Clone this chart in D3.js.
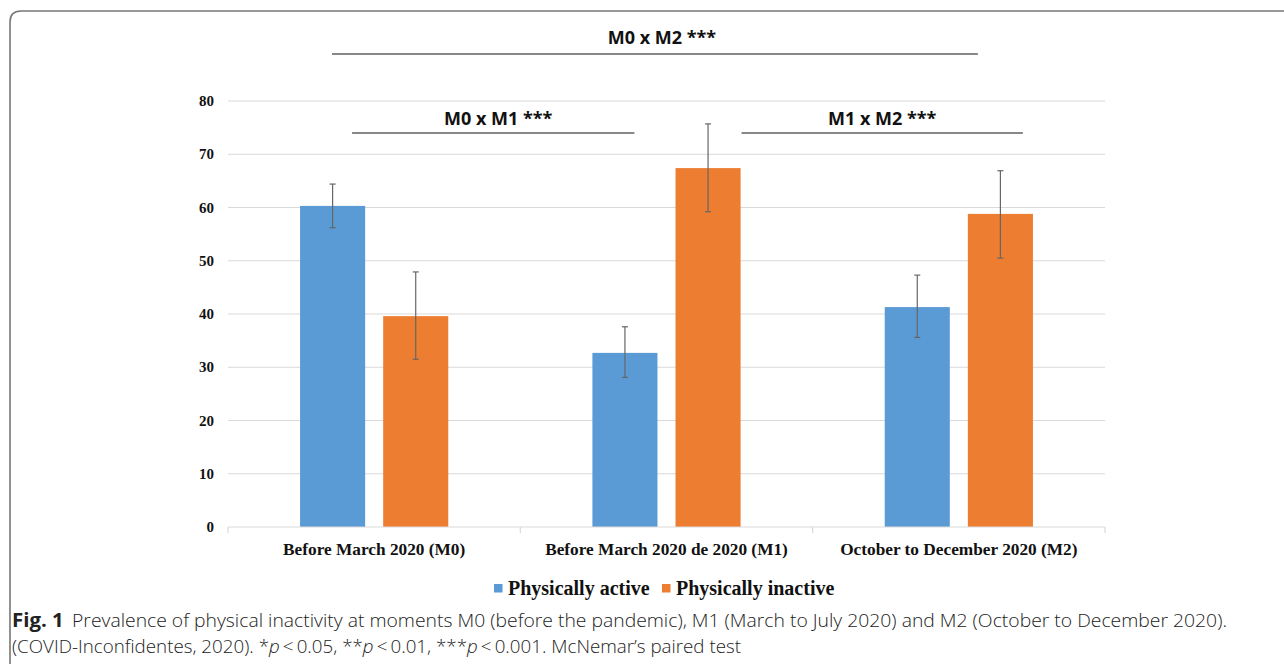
<!DOCTYPE html>
<html><head><meta charset="utf-8">
<script src="https://cdn.jsdelivr.net/npm/d3@7"></script>
<style>body{margin:0;background:#fff;} svg{display:block;}</style>
</head><body>
<svg id="chart" width="1284" height="666"></svg>
<script>
const categories = ["Before March 2020 (M0)", "Before March 2020 de 2020 (M1)", "October to December 2020 (M2)"];
const seriesNames = ["Physically active", "Physically inactive"];
const activeValues = [60.3, 32.7, 41.3];
const inactiveValues = [39.6, 67.4, 58.8];
const activeLow = [56.2, 28.1, 35.6];
const activeHigh = [64.4, 37.6, 47.3];
const inactiveLow = [31.5, 59.2, 50.5];
const inactiveHigh = [47.9, 75.7, 66.9];
const yTicks = [0, 10, 20, 30, 40, 50, 60, 70, 80];
const comparisons = [
  {label: "M0 x M2 ***", from: 0, to: 2, level: 2},
  {label: "M0 x M1 ***", from: 0, to: 1, level: 1},
  {label: "M1 x M2 ***", from: 1, to: 2, level: 1}
];
const captionBold = "Fig. 1";
const captionLine1 = "Prevalence of physical inactivity at moments M0 (before the pandemic), M1 (March to July 2020) and M2 (October to December 2020).";
const captionLine2 = "(COVID-Inconfidentes, 2020). *p\u2009<\u20090.05, **p\u2009<\u20090.01, ***p\u2009<\u20090.001. McNemar\u2019s paired test";

const colors = ["#5b9bd5", "#ed7d31"];
const svg = d3.select("#chart");

// frame
svg.append("path")
  .attr("d", "M10,664 L10,22 Q10,11 21,11 L1290,11")
  .attr("fill", "none").attr("stroke", "#777").attr("stroke-width", 1.6);

const pLeft = 228, pRight = 1105, pTop = 101, pBottom = 527;
const x = d3.scaleBand().domain(categories).range([pLeft, pRight]).paddingInner(0).paddingOuter(0);
const y = d3.scaleLinear().domain([0, 80]).range([pBottom, pTop]);

// gridlines
svg.append("g").selectAll("line").data(yTicks.filter(d => d > 0)).join("line")
  .attr("x1", pLeft).attr("x2", pRight)
  .attr("y1", d => y(d)).attr("y2", d => y(d))
  .attr("stroke", "#d9d9d9").attr("stroke-width", 1.2);

// y labels
svg.append("g").selectAll("text").data(yTicks).join("text")
  .attr("x", 214).attr("y", d => y(d) + 5)
  .attr("text-anchor", "end")
  .attr("font-family", "Liberation Serif, Times New Roman, serif")
  .attr("font-weight", "bold").attr("font-size", 15).attr("fill", "#111")
  .text(d => d);

// bars
const inner = d3.scaleBand().domain(seriesNames).range([0, x.bandwidth()]).paddingInner(0.217).paddingOuter(0.867);
const data = categories.map((c, i) => [
  {cat: c, s: seriesNames[0], v: activeValues[i], lo: activeLow[i], hi: activeHigh[i], col: colors[0]},
  {cat: c, s: seriesNames[1], v: inactiveValues[i], lo: inactiveLow[i], hi: inactiveHigh[i], col: colors[1]}
]).flat();

svg.append("g").selectAll("rect").data(data).join("rect")
  .attr("x", d => x(d.cat) + inner(d.s))
  .attr("width", inner.bandwidth())
  .attr("y", d => y(d.v))
  .attr("height", d => y(0) - y(d.v))
  .attr("fill", d => d.col);

// axis baseline
const axisG = svg.append("g");
axisG.append("line").attr("x1", pLeft).attr("x2", pRight).attr("y1", pBottom).attr("y2", pBottom)
  .attr("stroke", "#d9d9d9").attr("stroke-width", 1.2);
const bounds = categories.map(c => x(c)).concat([pRight]);
axisG.selectAll("line.tk").data(bounds).join("line").attr("class", "tk")
  .attr("x1", d => d).attr("x2", d => d).attr("y1", pBottom).attr("y2", pBottom + 6)
  .attr("stroke", "#d9d9d9").attr("stroke-width", 1.2);

// error bars
const eb = svg.append("g").attr("stroke", "#666").attr("stroke-width", 1.2);
data.forEach(d => {
  const cx = x(d.cat) + inner(d.s) + inner.bandwidth() / 2;
  eb.append("line").attr("x1", cx).attr("x2", cx).attr("y1", y(d.hi)).attr("y2", y(d.lo));
  eb.append("line").attr("x1", cx - 3).attr("x2", cx + 3).attr("y1", y(d.hi)).attr("y2", y(d.hi));
  eb.append("line").attr("x1", cx - 3).attr("x2", cx + 3).attr("y1", y(d.lo)).attr("y2", y(d.lo));
});

// x labels
svg.append("g").selectAll("text").data(categories).join("text")
  .attr("x", d => x(d) + x.bandwidth() / 2).attr("y", 555)
  .attr("text-anchor", "middle")
  .attr("font-family", "Liberation Serif, Times New Roman, serif")
  .attr("font-weight", "bold").attr("font-size", 17.3).attr("fill", "#111")
  .text(d => d);

// significance brackets
const compGeom = {
  2: {y: 54, ty: 44},
  1: {y: 133, ty: 125}
};
comparisons.forEach(c => {
  const g = compGeom[c.level];
  let x1, x2, dx;
  if (c.level === 2) {
    x1 = x(categories[c.from]) + inner(seriesNames[0]) + 32;
    x2 = x(categories[c.to]) + inner(seriesNames[1]) + 10;
    dx = 7;
  } else if (c.from === 0) {
    x1 = x(categories[c.from]) + inner(seriesNames[0]) + 52;
    x2 = x(categories[c.to]) + inner(seriesNames[0]) + 42;
    dx = 5;
  } else {
    x1 = x(categories[c.from]) + inner(seriesNames[1]) + 66;
    x2 = x(categories[c.to]) + inner(seriesNames[1]) + 55;
    dx = 0;
  }
  svg.append("line").attr("x1", x1).attr("x2", x2).attr("y1", g.y).attr("y2", g.y)
    .attr("stroke", "#111").attr("stroke-width", 1.2);
  svg.append("text").attr("x", (x1 + x2) / 2 + dx).attr("y", g.ty)
    .attr("text-anchor", "middle")
    .attr("font-family", "Open Sans, Noto Sans, sans-serif")
    .attr("font-weight", "bold").attr("font-size", 18).attr("fill", "#111")
    .text(c.label);
});

// legend
const leg = svg.append("g");
const legItems = [{name: seriesNames[0], col: colors[0], x: 494}, {name: seriesNames[1], col: colors[1], x: 662}];
legItems.forEach(it => {
  leg.append("rect").attr("x", it.x).attr("y", 584).attr("width", 8.5).attr("height", 8.5).attr("fill", it.col);
  leg.append("text").attr("x", it.x + 14).attr("y", 595)
    .attr("font-family", "Liberation Serif, Times New Roman, serif")
    .attr("font-weight", "bold").attr("font-size", 20).attr("fill", "#111")
    .text(it.name);
});

// caption
const cap = svg.append("g").attr("font-family", "Open Sans, Noto Sans, sans-serif").attr("fill", "#222");
const t1 = cap.append("text").attr("x", 12).attr("y", 627).attr("font-size", 18.5)
  .attr("textLength", 1215).attr("lengthAdjust", "spacingAndGlyphs");
t1.append("tspan").attr("font-weight", "bold").attr("font-size", 19.5).text(captionBold);
t1.append("tspan").attr("dx", 8).attr("font-weight", 300).text(captionLine1);
const t2 = cap.append("text").attr("x", 12).attr("y", 653).attr("font-size", 18.5).attr("font-weight", 300)
  .attr("textLength", 729).attr("lengthAdjust", "spacingAndGlyphs");
const parts = captionLine2.split(/(p)(?=\u2009<)/);
parts.forEach(p => {
  const ts = t2.append("tspan").text(p);
  if (p === "p") ts.attr("font-style", "italic");
});
</script>
</body></html>
